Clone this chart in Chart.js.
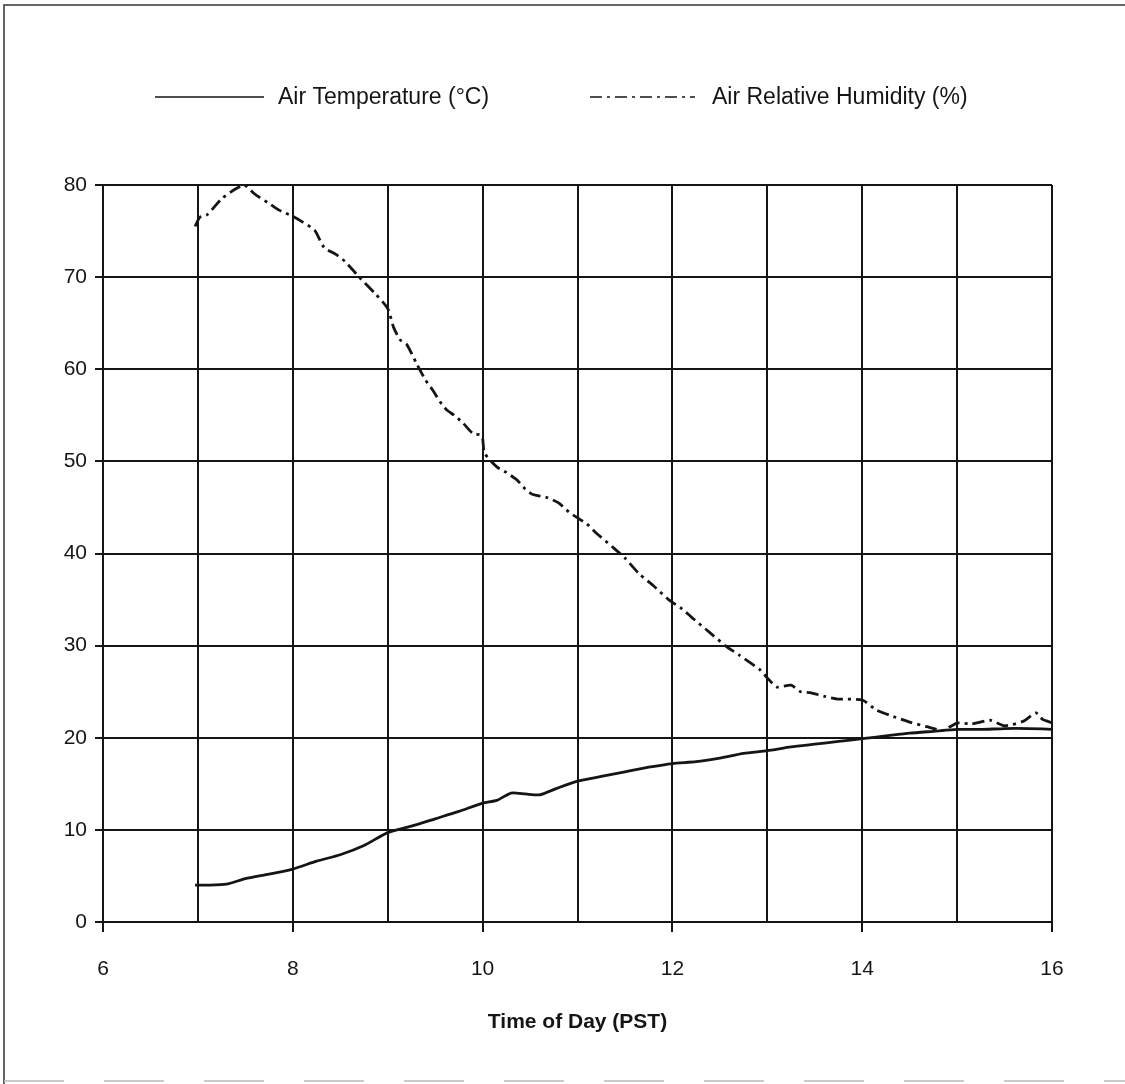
<!DOCTYPE html>
<html>
<head>
<meta charset="utf-8">
<script src="https://cdn.jsdelivr.net/npm/chart.js@4"></script>
<style>
  html, body { margin: 0; padding: 0; background: #fff; }
  canvas { display: block; }
</style>
</head>
<body>
<canvas id="grafico" width="1125" height="1084"></canvas>
<script>
// Air temperature (°C), time in decimal hours PST
const tempTime = [6.97, 7.1, 7.3, 7.5, 7.75, 8.0, 8.25, 8.5, 8.75, 9.0, 9.25, 9.5, 9.75, 10.0, 10.15, 10.3, 10.45, 10.6, 10.78, 11.0, 11.25, 11.5, 11.75, 12.0, 12.25, 12.5, 12.75, 13.0, 13.25, 13.5, 13.75, 14.0, 14.25, 14.5, 14.75, 15.0, 15.25, 15.5, 15.75, 16.05];
const tempValues = [4.0, 4.0, 4.1, 4.7, 5.2, 5.75, 6.6, 7.3, 8.3, 9.7, 10.4, 11.2, 12.0, 12.9, 13.2, 14.0, 13.9, 13.8, 14.5, 15.3, 15.8, 16.3, 16.8, 17.2, 17.4, 17.8, 18.3, 18.6, 19.0, 19.3, 19.6, 19.9, 20.2, 20.5, 20.7, 20.9, 20.9, 21.0, 21.0, 20.9];

// Air relative humidity (%)
const humTime = [6.97, 7.02, 7.1, 7.25, 7.4, 7.49, 7.6, 7.75, 7.85, 8.0, 8.1, 8.23, 8.33, 8.45, 8.55, 8.7, 8.86, 9.0, 9.06, 9.13, 9.2, 9.31, 9.4, 9.47, 9.55, 9.62, 9.7, 9.79, 9.9, 9.97, 10.0, 10.02, 10.15, 10.25, 10.36, 10.45, 10.53, 10.67, 10.8, 10.91, 10.98, 11.1, 11.2, 11.37, 11.5, 11.65, 11.8, 11.96, 12.1, 12.2, 12.35, 12.57, 12.7, 12.92, 13.0, 13.1, 13.25, 13.35, 13.45, 13.6, 13.75, 14.0, 14.15, 14.33, 14.5, 14.68, 14.85, 15.0, 15.15, 15.35, 15.5, 15.7, 15.83, 15.9, 16.0, 16.05];
const humValues = [75.5, 76.5, 76.8, 78.5, 79.6, 80.0, 79.0, 78.0, 77.3, 76.6, 76.0, 75.1, 73.2, 72.5, 71.7, 70.0, 68.3, 66.6, 64.6, 63.2, 62.7, 60.5, 58.8, 57.8, 56.5, 55.6, 55.0, 54.2, 53.0, 52.9, 52.5, 50.9, 49.4, 48.8, 48.0, 47.0, 46.4, 46.1, 45.5, 44.5, 44.0, 43.2, 42.2, 40.7, 39.5, 37.8, 36.5, 35.0, 34.0, 33.1, 31.8, 29.9, 29.0, 27.4, 26.5, 25.5, 25.7, 25.0, 24.9, 24.5, 24.2, 24.1, 23.0, 22.3, 21.7, 21.2, 20.8, 21.6, 21.5, 21.9, 21.3, 21.8, 22.7, 22.0, 21.6, 21.0];

const seriesNames = ['Air Temperature (°C)', 'Air Relative Humidity (%)'];
const xTitle = 'Time of Day (PST)';

const toPoints = (xs, ys) => xs.map((x, i) => ({ x: x, y: ys[i] }));
const ink = '#151515';
const fuente = 'Arial, "Liberation Sans", sans-serif';

// Leyenda y marco dibujados a mano
const leyenda = {
    id: 'leyenda',
    afterDraw(chart) {
        const ctx = chart.ctx;
        ctx.save();
        // marco
        ctx.strokeStyle = '#333';
        ctx.lineWidth = 1.5;
        ctx.beginPath();
        ctx.moveTo(4, 1084);
        ctx.lineTo(4, 5);
        ctx.lineTo(1125, 5);
        ctx.stroke();
        ctx.strokeStyle = '#bbb';
        ctx.setLineDash([60, 40]);
        ctx.beginPath();
        ctx.moveTo(4, 1081);
        ctx.lineTo(1125, 1081);
        ctx.stroke();
        ctx.setLineDash([]);

        const y = 97;
        ctx.font = '23px ' + fuente;
        ctx.fillStyle = ink;
        ctx.textBaseline = 'middle';
        ctx.textAlign = 'left';
        const items = [
            { x0: 155, x1: 264, tx: 278, ds: chart.data.datasets[0] },
            { x0: 590, x1: 695, tx: 712, ds: chart.data.datasets[1] }
        ];
        items.forEach(it => {
            ctx.strokeStyle = it.ds.borderColor;
            ctx.lineWidth = 1.5;
            ctx.setLineDash(it.ds.borderDash || []);
            ctx.beginPath();
            ctx.moveTo(it.x0, y);
            ctx.lineTo(it.x1, y);
            ctx.stroke();
            ctx.setLineDash([]);
            ctx.fillText(it.ds.label, it.tx, y + 1);
        });
        ctx.restore();
    }
};

new Chart(document.getElementById('grafico').getContext('2d'), {
    type: 'line',
    data: {
        datasets: [{
            label: seriesNames[0],
            data: toPoints(tempTime, tempValues),
            borderColor: ink,
            borderWidth: 2.8,
            pointRadius: 0,
            tension: 0.2
        }, {
            label: seriesNames[1],
            data: toPoints(humTime, humValues),
            borderColor: ink,
            borderWidth: 2.8,
            borderDash: [12, 5, 3, 5],
            pointRadius: 0,
            tension: 0.2
        }]
    },
    options: {
        responsive: false,
        animation: false,
        layout: { padding: { left: 0, right: 73, top: 185, bottom: 45 } },
        plugins: {
            legend: { display: false },
            tooltip: { enabled: false }
        },
        scales: {
            x: {
                type: 'linear',
                min: 6,
                max: 16,
                afterFit: s => { s.height = 117; },
                ticks: {
                    stepSize: 1,
                    color: ink,
                    padding: 25,
                    font: { family: fuente, size: 21 },
                    maxRotation: 0,
                    callback: v => (v % 2 === 0 ? v : '')
                },
                grid: {
                    color: ink,
                    lineWidth: 2,
                    tickLength: 10,
                    tickColor: c => (c.tick && c.tick.value % 2 === 0 ? ink : 'rgba(0,0,0,0)')
                },
                border: { color: ink, width: 2 },
                title: {
                    display: true,
                    text: xTitle,
                    color: ink,
                    font: { family: fuente, size: 21, weight: 'bold' }
                }
            },
            y: {
                min: 0,
                max: 80,
                afterFit: s => { s.width = 103; },
                ticks: {
                    stepSize: 10,
                    color: ink,
                    padding: 8,
                    font: { family: fuente, size: 21 }
                },
                grid: { color: ink, lineWidth: 2, tickLength: 8 },
                border: { color: ink, width: 2 }
            }
        }
    },
    plugins: [leyenda]
});
</script>
</body>
</html>
